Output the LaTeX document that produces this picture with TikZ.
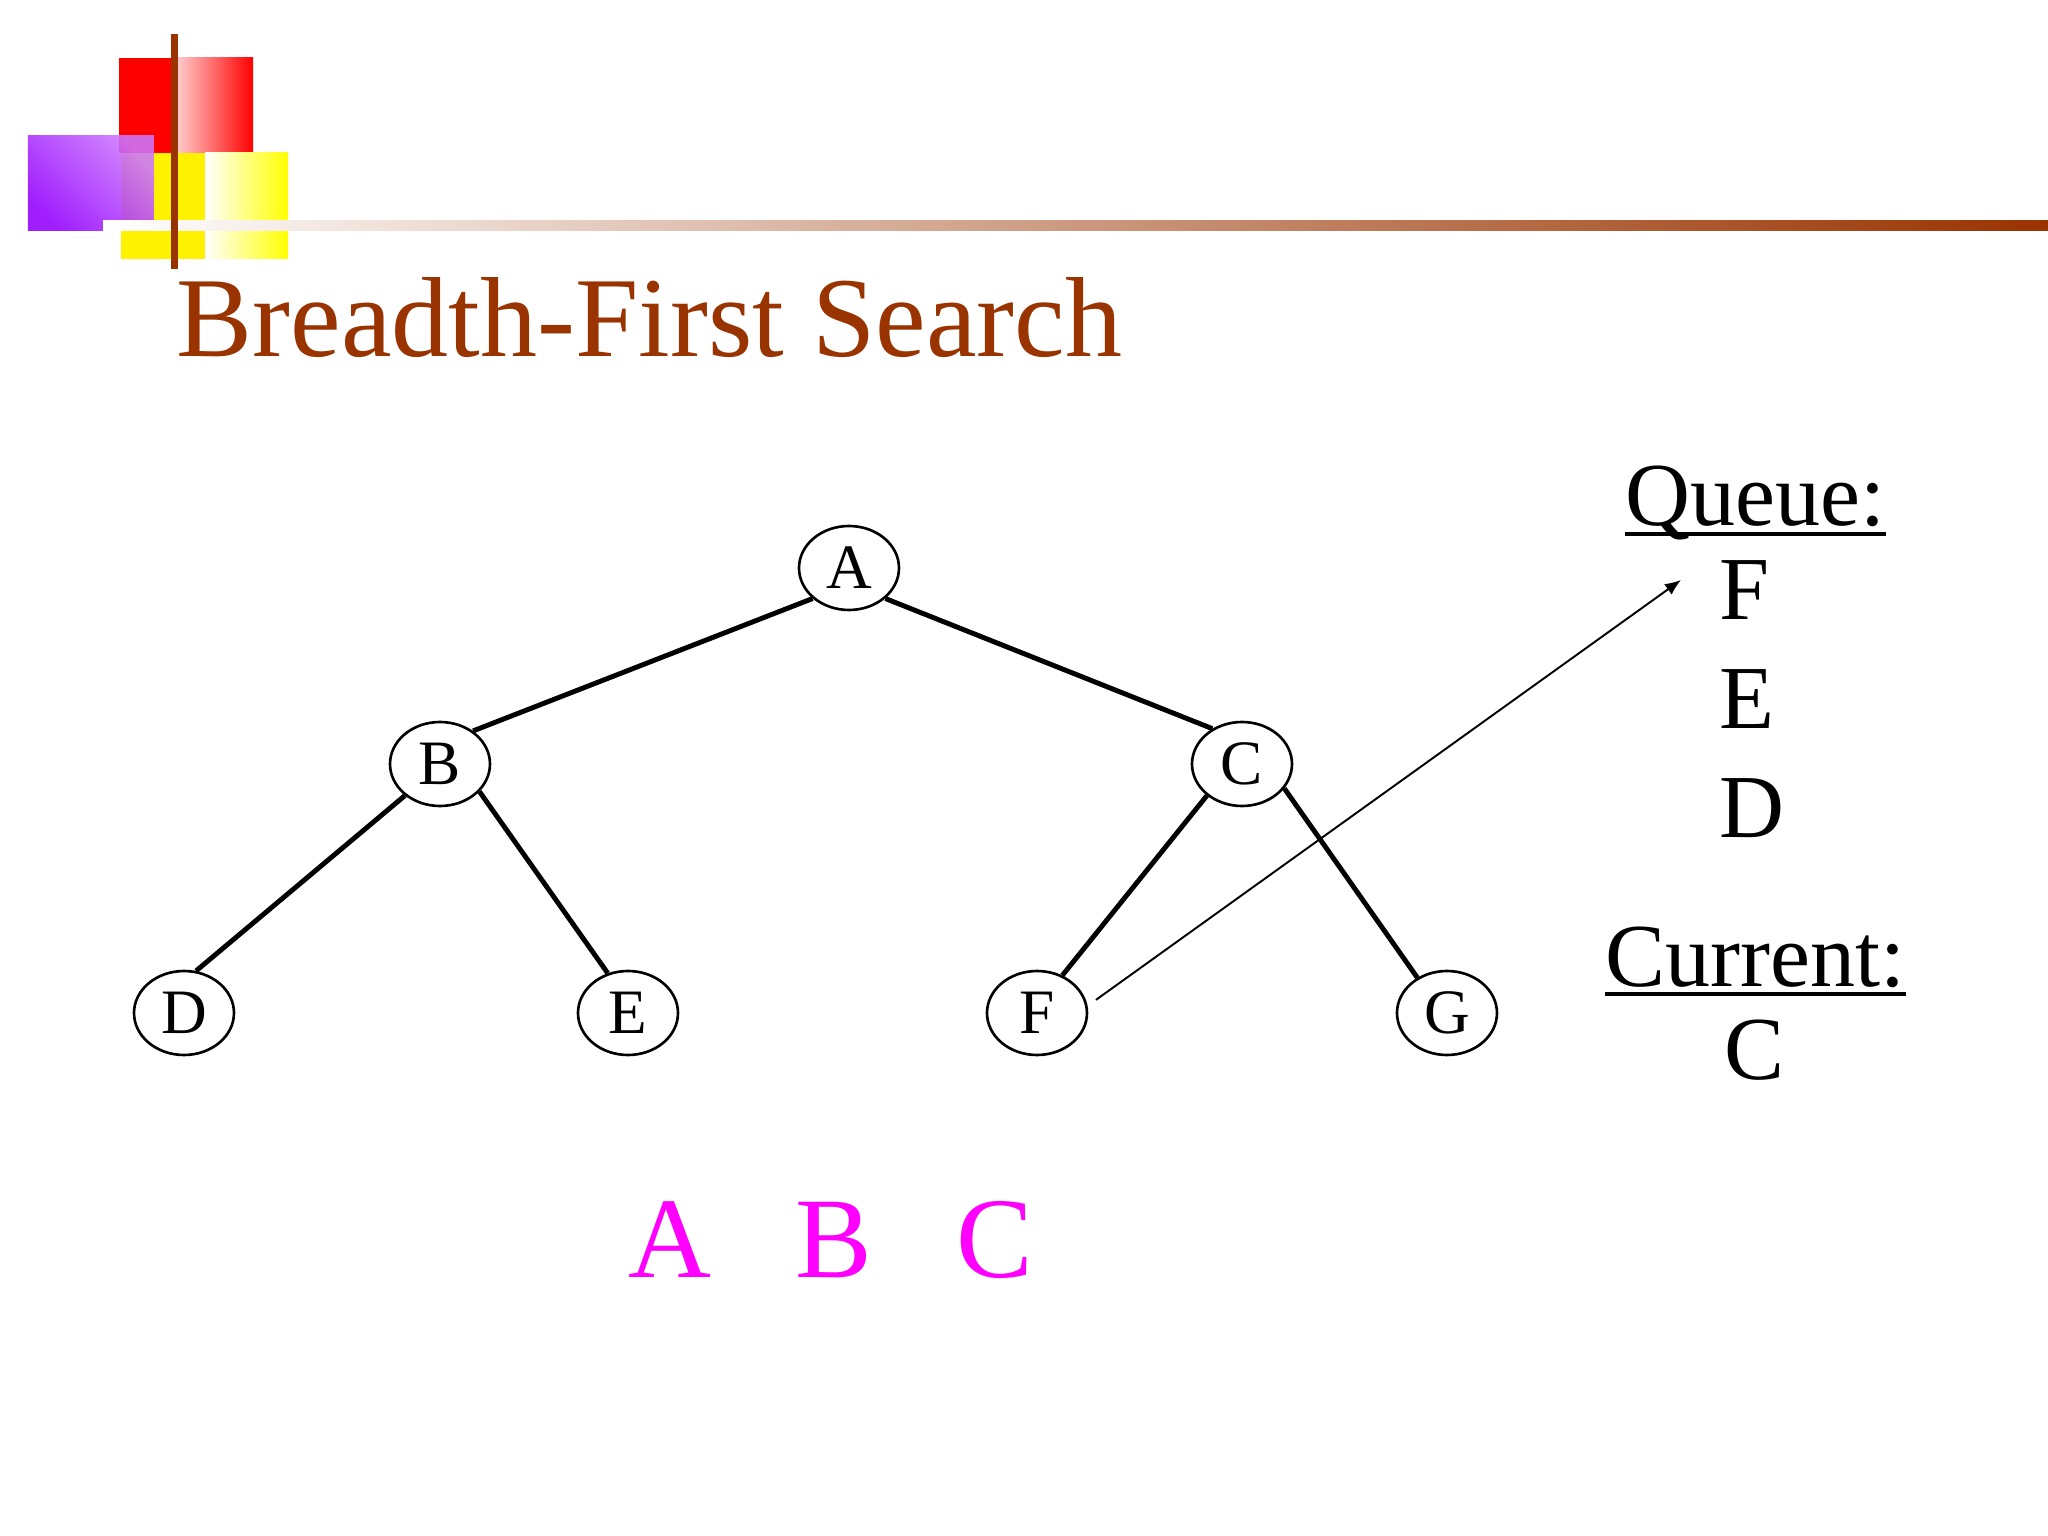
\documentclass[tikz,border=0pt]{standalone}
\usepackage{fontspec}
\setmainfont{Liberation Serif}
\usetikzlibrary{arrows.meta,shapes.geometric}
\definecolor{cbrown}{HTML}{993300}
\definecolor{cmag}{HTML}{FF00FF}
\definecolor{cpurp}{HTML}{9400FF}
\definecolor{clilac}{HTML}{CC77FF}
\definecolor{cpink}{HTML}{FFC8C8}

\begin{document}
\begin{tikzpicture}[
    vtx/.style={draw=black, line width=0.75pt, ellipse, inner sep=0pt,
                minimum width=10mm, minimum height=8.4mm, font=\fontsize{18}{20}\selectfont},
    tree/.style={line width=1.4pt, draw=black},
    push/.style={-{Latex[length=1.6mm,width=1.3mm]}, line width=0.55pt},
    big/.style={inner sep=0pt, anchor=base west, font=\fontsize{25.6}{30}\selectfont},
    uline/.style={line width=1.1pt},
    seen/.style={inner sep=0pt, anchor=base west, text=cmag, font=\fontsize{32.7}{38}\selectfont},
  ]
  \useasboundingbox[fill=white] (0,0) rectangle (20.48,-15.36);

  \fill[red] (1.19,-0.58) rectangle (1.78,-1.53);
  \shade[left color=cpink, right color=red] (1.78,-0.58) rectangle (2.53,-1.53);
  \fill[yellow] (1.21,-1.53) rectangle (2.05,-2.59);
  \shade[left color=white, right color=yellow] (2.05,-1.53) rectangle (2.88,-2.59);
  \shade[bottom color=cpurp, top color=clilac, shading angle=-45, fill opacity=0.88]
        (0.28,-1.36) rectangle (1.54,-2.31);
  \shade[left color=white, right color=cbrown] (1.03,-2.21) rectangle (20.48,-2.31);
  \fill[cbrown] (1.71,-0.34) rectangle (1.78,-2.69);

  \node[anchor=base west, inner sep=0pt, text=cbrown, font=\fontsize{32.4}{38}\selectfont]
       (title) at (1.76,-3.57) {Breadth-First Search};

  \node[vtx] (A) at (8.49,-5.68) {A};
  \node[vtx] (B) at (4.40,-7.64) {B};
  \node[vtx] (C) at (12.42,-7.64) {C};
  \node[vtx] (D) at (1.84,-10.13) {D};
  \node[vtx] (E) at (6.28,-10.13) {E};
  \node[vtx] (F) at (10.37,-10.13) {F};
  \node[vtx] (G) at (14.47,-10.13) {G};

  \draw[tree] (A.220) -- (B.45);
  \draw[tree] (A.320) -- (C.130);
  \draw[tree] (B.222) -- (D.74);
  \draw[tree] (B.325) -- (E.117);
  \draw[tree] (C.222) -- (F.56);
  \draw[tree] (C.330) -- (G.130);

  \node[big] (qhead) at (16.25,-5.26) {Queue:};
  \draw[uline] ([yshift=-0.08cm]qhead.base west) -- ([yshift=-0.08cm]qhead.base east);
  \foreach \q/\y in {F/6.20,E/7.29,D/8.37}
    \node[big] (q\q) at (17.19,-\y) {\q};
  \node[big] (chead) at (16.05,-9.86) {Current:};
  \draw[uline] ([yshift=-0.08cm]chead.base west) -- ([yshift=-0.08cm]chead.base east);
  \node[big] (cur) at (17.24,-10.79) {C};

  \coordinate (qin) at (16.81,-5.80);
  \draw[push] ([xshift=1mm]F.15) -- (qin);

  \foreach \v/\x in {A/6.28,B/7.95,C/9.56}
    \node[seen] (v\v) at (\x,-12.77) {\v};
\end{tikzpicture}
\end{document}
